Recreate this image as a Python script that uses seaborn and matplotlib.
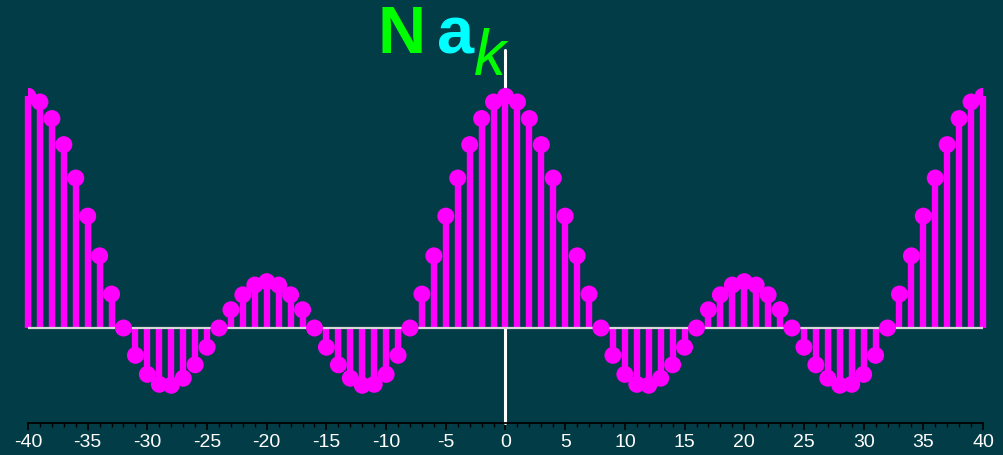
import matplotlib
matplotlib.use("Agg")
import matplotlib.pyplot as plt
import seaborn as sns
import pandas as pd
from matplotlib.ticker import MultipleLocator

# Sample index k and the scaled Fourier coefficients N*a_k (period 40)
k_values = list(range(-40, 41))
nak_values = [
    5.0, 4.8776, 4.5201, 3.9576, 3.2361, 2.4142, 1.5575, 0.7324, 0.0,
    -0.5893, -1.0, -1.2150, -1.2361, -1.0836, -0.7936, -0.4142, 0.0,
    0.3936, 0.7159, 0.9267, 1.0, 0.9267, 0.7159, 0.3936, 0.0,
    -0.4142, -0.7936, -1.0836, -1.2361, -1.2150, -1.0, -0.5893, 0.0,
    0.7324, 1.5575, 2.4142, 3.2361, 3.9576, 4.5201, 4.8776,
    5.0,
    4.8776, 4.5201, 3.9576, 3.2361, 2.4142, 1.5575, 0.7324, 0.0,
    -0.5893, -1.0, -1.2150, -1.2361, -1.0836, -0.7936, -0.4142, 0.0,
    0.3936, 0.7159, 0.9267, 1.0, 0.9267, 0.7159, 0.3936, 0.0,
    -0.4142, -0.7936, -1.0836, -1.2361, -1.2150, -1.0, -0.5893, 0.0,
    0.7324, 1.5575, 2.4142, 3.2361, 3.9576, 4.5201, 4.8776, 5.0,
]
tick_positions = list(range(-40, 41, 5))
tick_labels = [str(t) for t in tick_positions]

df = pd.DataFrame({"k": k_values, "nak": nak_values})

BG = "#023c46"
STEM = "#ff00ff"

sns.set_style("white")
plt.rcParams["font.family"] = ["Liberation Sans", "DejaVu Sans"]

fig = plt.figure(figsize=(10.04, 4.55), dpi=100, facecolor=BG)
ax = fig.add_axes([28 / 1004, 1 - 423 / 455, 955 / 1004, 373 / 455])
ax.set_facecolor(BG)

# vertical axis at k = 0
ax.axvline(0, color="white", lw=2.2, zorder=1, clip_on=False)

# stems
ax.vlines(df["k"], 0, df["nak"], colors=STEM, lw=4.6, zorder=2, clip_on=False)

# zero line
ax.plot([-40, 40], [0, 0], color="#d8d8d8", lw=1.6, zorder=3, solid_capstyle="butt")

# stem heads
sns.scatterplot(data=df, x="k", y="nak", ax=ax, color=STEM, s=150,
                edgecolor="none", linewidth=0, zorder=4, legend=False)

ax.set_xlim(-40, 40)
ax.set_ylim(-2.05, 6.0)
ax.set_xlabel("")
ax.set_ylabel("")

for side in ("top", "right", "left"):
    ax.spines[side].set_visible(False)
ax.spines["bottom"].set_color("black")
ax.spines["bottom"].set_linewidth(1.3)

ax.set_xticks(tick_positions)
ax.set_xticklabels(tick_labels)
ax.xaxis.set_minor_locator(MultipleLocator(1))
ax.tick_params(axis="x", which="major", direction="out", length=5, width=1.2,
               color="black", labelcolor="white", labelsize=14, pad=3,
               bottom=True)
ax.tick_params(axis="x", which="minor", direction="out", length=3, width=1.0,
               color="black", bottom=True)
ax.set_yticks([])

# title  N a_k
fig.text(378 / 1004, 1 - 53 / 455, "N", color="#00ff00", fontsize=48,
         fontweight="bold", ha="left", va="baseline")
fig.text(437 / 1004, 1 - 53 / 455, "a", color="#00ffff", fontsize=48,
         fontweight="bold", ha="left", va="baseline")
fig.text(474 / 1004, 1 - 75 / 455, "k", color="#00ff00", fontsize=46,
         fontstyle="italic", ha="left", va="baseline")

fig.savefig("out.png", dpi=100, facecolor=BG)
